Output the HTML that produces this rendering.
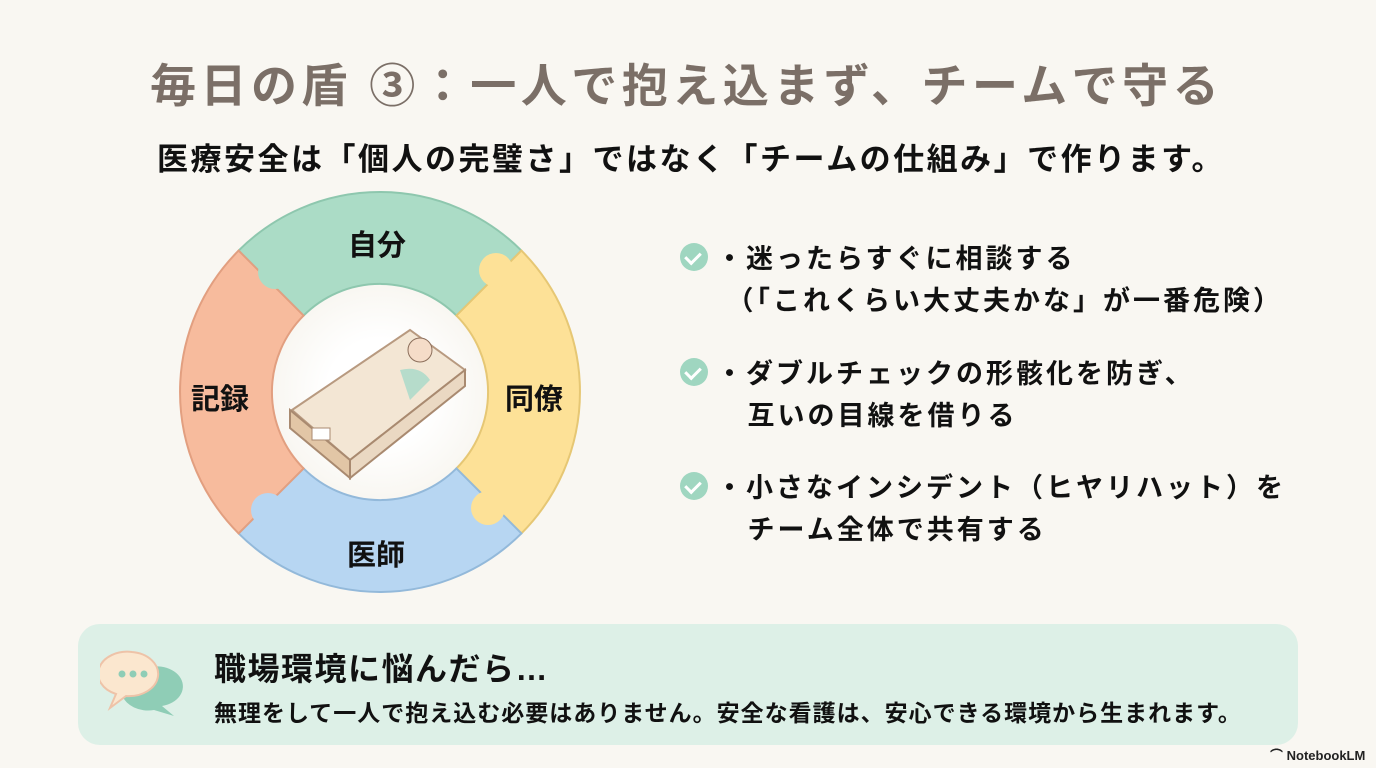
<!DOCTYPE html>
<html><head><meta charset="utf-8"><style>
body{margin:0;width:1376px;height:768px;background:#f9f7f2;overflow:hidden;position:relative;font-family:"Liberation Sans","Noto Sans CJK JP",sans-serif;font-weight:bold;color:#111}
.a{position:absolute;white-space:nowrap}
.chk{position:absolute;width:28px;height:28px;border-radius:50%;background:#9fd6c0}
.chk:after{content:"";position:absolute;left:8px;top:6px;width:7px;height:12px;border:solid #fff;border-width:0 3px 3px 0;transform:rotate(45deg)}
.b{left:716px;font-size:27px;line-height:42px;letter-spacing:3px}
</style></head><body>
<div class="a" style="left:150px;top:50px;font-size:46px;color:#7b6f67;letter-spacing:4.5px">毎日の盾 ③：一人で抱え込まず、チームで守る</div>
<div class="a" style="left:157px;top:134px;font-size:31px;letter-spacing:2.5px">医療安全は「個人の完璧さ」ではなく「チームの仕組み」で作ります。</div>
<svg class="a" style="left:0;top:0" width="700" height="620">
<defs><radialGradient id="g"><stop offset="0.5" stop-color="#fff" stop-opacity="1"/><stop offset="1" stop-color="#fff" stop-opacity="0"/></radialGradient></defs>
<g stroke-width="2">
<path d="M238.6,250.6 A200,200 0 0 1 521.4,250.6 L456.4,315.6 A108,108 0 0 0 303.6,315.6 Z" fill="#abdcc6" stroke="#8ec7ae"/>
<path d="M521.4,250.6 A200,200 0 0 1 521.4,533.4 L456.4,468.4 A108,108 0 0 0 456.4,315.6 Z" fill="#fde197" stroke="#e6c774"/>
<path d="M521.4,533.4 A200,200 0 0 1 238.6,533.4 L303.6,468.4 A108,108 0 0 0 456.4,468.4 Z" fill="#b7d6f2" stroke="#93b9da"/>
<path d="M238.6,533.4 A200,200 0 0 1 238.6,250.6 L303.6,315.6 A108,108 0 0 0 303.6,468.4 Z" fill="#f7bb9d" stroke="#e29f80"/>
<circle cx="275" cy="272" r="17" fill="#abdcc6"/>
<circle cx="496" cy="270" r="17" fill="#fde197"/>
<circle cx="488" cy="508" r="17" fill="#fde197"/>
<circle cx="268" cy="510" r="17" fill="#b7d6f2"/>
</g>
<circle cx="380" cy="392" r="106" fill="url(#g)"/>
<g transform="translate(380,390)">
<polygon points="-88,20 30,-60 85,-20 -30,70" fill="#f3e6d4" stroke="#b89a80" stroke-width="2"/>
<polygon points="-90,20 -30,70 -30,88 -90,38" fill="#e2c6a6" stroke="#a98a70" stroke-width="2"/>
<polygon points="-30,70 85,-20 85,-4 -30,88" fill="#ead8c2" stroke="#a98a70" stroke-width="2"/>
<rect x="-68" y="38" width="18" height="12" fill="#fff" stroke="#a98a70"/>
<circle cx="40" cy="-40" r="12" fill="#f5dcc8" stroke="#8b6e5a"/>
<path d="M20,-20 q20,-5 30,10 l-20,20 z" fill="#b6dccb"/>
</g>
</svg>
<div class="a" style="left:348px;top:222px;font-size:29px">自分</div>
<div class="a" style="left:191px;top:376px;font-size:29px">記録</div>
<div class="a" style="left:505px;top:376px;font-size:29px">同僚</div>
<div class="a" style="left:347px;top:532px;font-size:29px">医師</div>
<div class="chk" style="left:680px;top:243px"></div>
<div class="a b" style="top:238px">・迷ったらすぐに相談する<br>&nbsp;（「これくらい大丈夫かな」が一番危険）</div>
<div class="chk" style="left:680px;top:358px"></div>
<div class="a b" style="top:353px">・ダブルチェックの形骸化を防ぎ、<br>&nbsp;&nbsp;&nbsp;互いの目線を借りる</div>
<div class="chk" style="left:680px;top:472px"></div>
<div class="a b" style="top:467px">・小さなインシデント（ヒヤリハット）を<br>&nbsp;&nbsp;&nbsp;チーム全体で共有する</div>
<div class="a" style="left:78px;top:624px;width:1220px;height:121px;background:#ddf0e7;border-radius:22px"></div>
<svg class="a" style="left:100px;top:648px" width="90" height="75">
<path d="M42,22 a26,20 0 1 1 20,36 l12,10 -20,-6 a26,20 0 0 1 -12,-40z" fill="#8fcdb6"/>
<path d="M32,4 a29,22 0 1 1 -6,44 l-16,12 6,-14 a29,22 0 0 1 16,-42z" fill="#fbe7cf" stroke="#eec3a8" stroke-width="2"/>
<circle cx="22" cy="26" r="3.5" fill="#8fcdb6"/><circle cx="33" cy="26" r="3.5" fill="#8fcdb6"/><circle cx="44" cy="26" r="3.5" fill="#8fcdb6"/>
</svg>
<div class="a" style="left:214px;top:644px;font-size:32px;letter-spacing:1.5px">職場環境に悩んだら…</div>
<div class="a" style="left:214px;top:694px;font-size:23px;letter-spacing:1px">無理をして一人で抱え込む必要はありません。安全な看護は、安心できる環境から生まれます。</div>
<div class="a" style="left:1270px;top:745px;font-size:13px;color:#222">⌒ NotebookLM</div>
</body></html>
